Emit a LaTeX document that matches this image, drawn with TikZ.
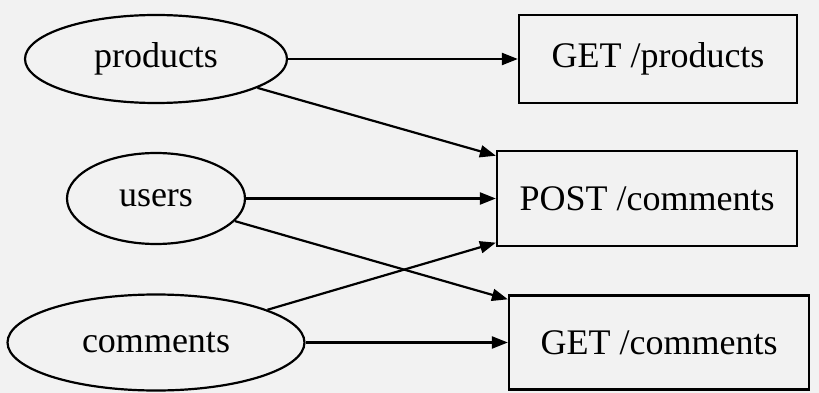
\documentclass[tikz,border=0pt]{standalone}
\usepackage{fontspec}
\setmainfont{Liberation Serif}
\usetikzlibrary{shapes.geometric,arrows.meta}
\definecolor{bg}{HTML}{F2F2F2}
\tikzset{
  resource/.style={ellipse,draw,line width=2.2pt,inner sep=0pt,font=\fontsize{36}{42}\selectfont},
  endpoint/.style={rectangle,draw,line width=2.2pt,inner sep=0pt,font=\fontsize{36}{42}\selectfont},
  link/.style={line width=2.2pt,-{Triangle[length=16pt,width=12pt]}}
}
\begin{document}
\begin{tikzpicture}[x=1pt,y=-1pt]
  \fill[bg] (0,0) rectangle (819,393);
  \useasboundingbox (0,0) rectangle (819,393);
  % resources
  \node[resource,minimum width=262pt,minimum height=88pt] (products) at (156,59) {products};
  \node[resource,minimum width=178pt,minimum height=91pt] (users) at (156,198.5) {users};
  \node[resource,minimum width=297pt,minimum height=96pt] (comments) at (156,342.5) {comments};
  % endpoints
  \node[endpoint,minimum width=278pt,minimum height=88pt] (getproducts) at (658,59) {GET /products};
  \node[endpoint,minimum width=300pt,minimum height=95pt] (postcomments) at (647,198.5) {POST /comments};
  \node[endpoint,minimum width=300pt,minimum height=94pt] (getcomments) at (659,342.5) {GET /comments};
  % requests
  \draw[link] (products) -- (getproducts);
  \draw[link] (products) -- (postcomments);
  \draw[link] (users) -- (postcomments);
  \draw[link] (users) -- (getcomments);
  \draw[link] (comments) -- (postcomments);
  \draw[link] (comments) -- (getcomments);
\end{tikzpicture}
\end{document}
